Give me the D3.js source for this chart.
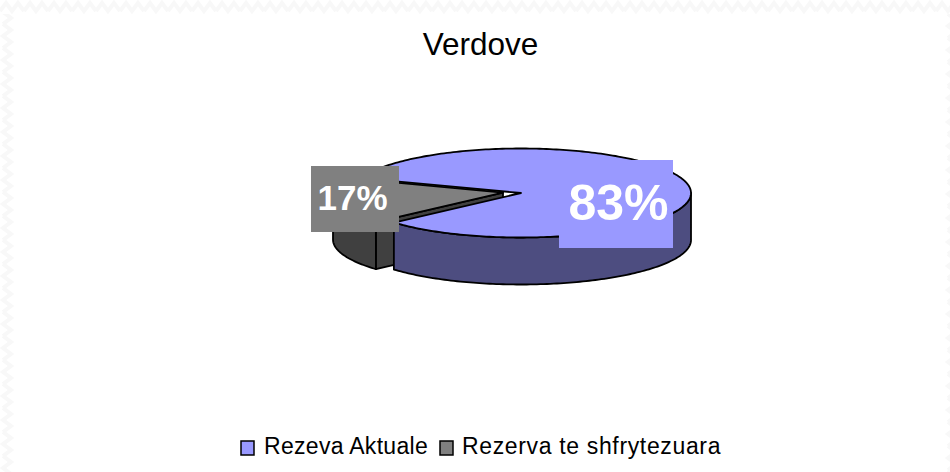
<!DOCTYPE html>
<html>
<head>
<meta charset="utf-8">
<script src="https://cdn.jsdelivr.net/npm/d3@7"></script>
<style>
  html, body { margin: 0; padding: 0; background: #fff; }
  svg { display: block; }
  text { font-family: "Liberation Sans", Arial, sans-serif; }
</style>
</head>
<body>
<div id="chart"></div>
<script>
var svgWidth = 950;
var svgHeight = 472;

var chartTitle = "Verdove";
var categories = ["Rezeva Aktuale", "Rezerva te shfrytezuara"];
var values = [83, 17];
var percentLabels = ["83%", "17%"];

var topColors = ["#9999ff", "#808080"];
var sideColors = ["#4d4d80", "#404040"];

var svg = d3.select("#chart")
  .append("svg")
  .attr("width", svgWidth)
  .attr("height", svgHeight);

// faint wavy tile along the page edges
var defs = svg.append("defs");
var tileX = defs.append("pattern").attr("id", "waveX").attr("patternUnits", "userSpaceOnUse")
  .attr("width", 24).attr("height", 14);
tileX.append("path").attr("d", "M0 11 L6 3 L12 11 L18 3 L24 11").attr("fill", "none").attr("stroke", "#f8f8f8").attr("stroke-width", 4);
var tileY = defs.append("pattern").attr("id", "waveY").attr("patternUnits", "userSpaceOnUse")
  .attr("width", 14).attr("height", 24);
tileY.append("path").attr("d", "M3 0 L11 6 L3 12 L11 18 L3 24").attr("fill", "none").attr("stroke", "#f8f8f8").attr("stroke-width", 4);
svg.append("rect").attr("width", svgWidth).attr("height", 14).attr("fill", "url(#waveX)");
svg.append("rect").attr("y", 14).attr("width", 14).attr("height", svgHeight - 14).attr("fill", "url(#waveY)");
svg.append("g").attr("transform", `translate(${svgWidth - 5}, 14)`)
  .append("rect").attr("width", 5).attr("height", svgHeight - 14).attr("fill", "url(#waveY)");

// pie geometry: flat ellipse, slices pulled apart
var rx = 170;
var ry = 44.5;
var depth = 47;
var centers = [{x: 521, y: 193}, {x: 503, y: 192.6}];

var pie = d3.pie()
  .sort(null)
  .startAngle(289.6 * Math.PI / 180)
  .endAngle((289.6 + 360) * Math.PI / 180);
var slices = pie(values);

// ellipse point for a pie angle (0 = up, clockwise)
function pt(i, a, drop) {
  return [centers[i].x + rx * Math.sin(a), centers[i].y - ry * Math.cos(a) + (drop || 0)];
}

function arcPoints(i, a0, a1, drop) {
  var n = Math.max(2, Math.ceil(Math.abs(a1 - a0) / 0.02));
  return d3.range(n + 1).map(function(k) {
    return pt(i, a0 + (a1 - a0) * k / n, drop);
  });
}

var line = d3.line();

// outer wall, only the part of the rim facing the viewer (between 90 and 270 deg)
function wallPath(i, a0, a1) {
  var top = arcPoints(i, a0, a1, 0);
  var bottom = arcPoints(i, a1, a0, depth);
  return line(top.concat(bottom)) + "Z";
}

function topPath(i) {
  var c = [centers[i].x, centers[i].y];
  return line([c].concat(arcPoints(i, slices[i].startAngle, slices[i].endAngle, 0))) + "Z";
}

function facePath(i, a) {
  var c = centers[i];
  var p = pt(i, a, 0);
  return line([[c.x, c.y], p, [p[0], p[1] + depth], [c.x, c.y + depth]]) + "Z";
}

var pieGroup = svg.append("g")
  .attr("stroke", "#000")
  .attr("stroke-width", 1.8)
  .attr("stroke-linejoin", "round");

var full = 2 * Math.PI;

// grey slice first, it sits behind the blue one
pieGroup.append("path").attr("d", facePath(1, slices[1].startAngle)).attr("fill", sideColors[1]);
pieGroup.append("path")
  .attr("d", wallPath(1, slices[1].startAngle, full + 1.5 * Math.PI))
  .attr("fill", sideColors[1]);
pieGroup.append("path").attr("d", topPath(1)).attr("fill", topColors[1]);

// blue wall runs from the right edge round to where the notch starts
pieGroup.append("path")
  .attr("d", wallPath(0, full + 0.5 * Math.PI, slices[0].endAngle))
  .attr("fill", sideColors[0]);
pieGroup.append("path").attr("d", topPath(0)).attr("fill", topColors[0]);

// percent labels with their filled boxes
var labelBoxes = svg.append("g");
var boxes = [
  {x: 559, y: 160, w: 114, h: 88, size: 50, tx: 618.5, ty: 220},
  {x: 311, y: 166, w: 88, h: 66, size: 35, tx: 352.5, ty: 210}
];
boxes.forEach(function(b, i) {
  labelBoxes.append("rect")
    .attr("x", b.x).attr("y", b.y).attr("width", b.w).attr("height", b.h)
    .attr("fill", topColors[i]);
  labelBoxes.append("text")
    .attr("x", b.tx).attr("y", b.ty)
    .attr("text-anchor", "middle")
    .attr("font-size", b.size)
    .attr("font-weight", "bold")
    .attr("fill", "#fff")
    .text(percentLabels[i]);
});

// title
svg.append("text")
  .attr("x", 480.5)
  .attr("y", 55)
  .attr("text-anchor", "middle")
  .attr("font-size", 31.5)
  .attr("fill", "#000")
  .text(chartTitle);

// legend
var legendPos = [{box: 241, text: 264, spacing: 0.3}, {box: 440, text: 462, spacing: 0.65}];
var legend = svg.append("g").selectAll("g")
  .data(categories)
  .enter()
  .append("g");
legend.append("rect")
  .attr("x", (d, i) => legendPos[i].box)
  .attr("y", 441)
  .attr("width", 13)
  .attr("height", 14)
  .attr("fill", (d, i) => topColors[i])
  .attr("stroke", "#000")
  .attr("stroke-width", 1.5);
legend.append("text")
  .attr("x", (d, i) => legendPos[i].text)
  .attr("y", 454)
  .attr("font-size", 23)
  .attr("letter-spacing", (d, i) => legendPos[i].spacing)
  .attr("fill", "#000")
  .text(d => d);
</script>
</body>
</html>
